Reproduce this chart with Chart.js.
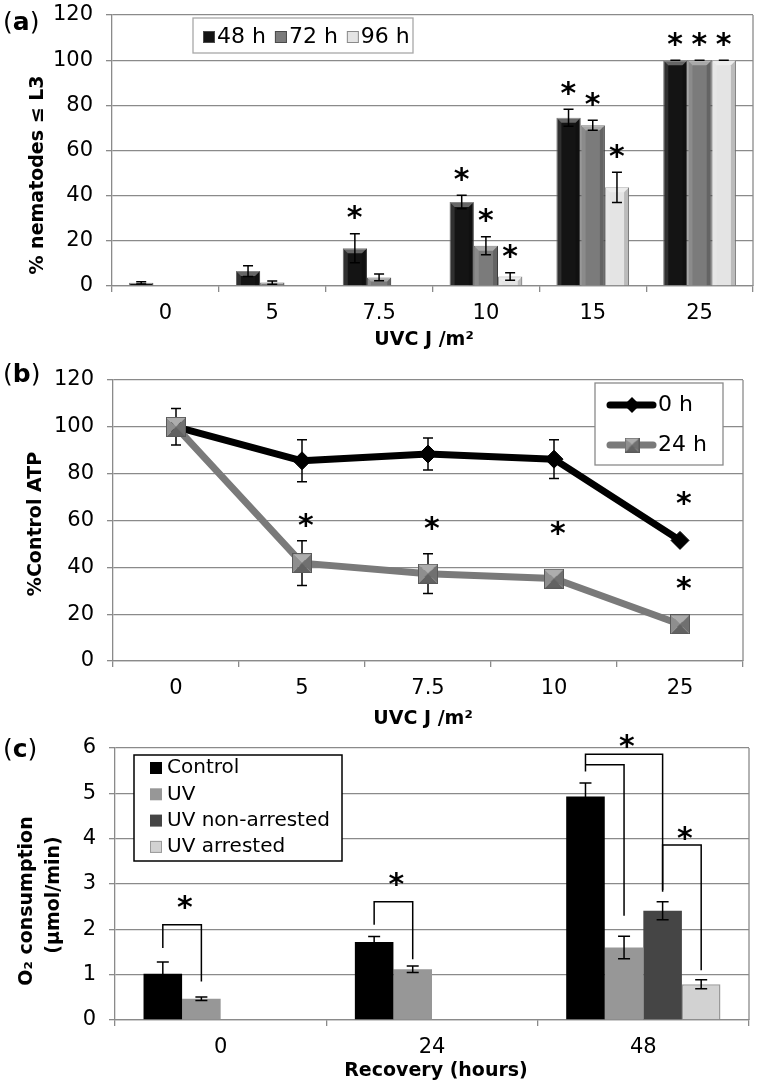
<!DOCTYPE html>
<html>
<head>
<meta charset="utf-8">
<script src="https://cdn.jsdelivr.net/npm/chart.js@4.4.0/dist/chart.umd.min.js"></script>
<style>
  body { margin: 0; background: #fff; }
  #page { position: relative; width: 760px; height: 1087px; overflow: hidden; font-family: "DejaVu Sans", Verdana, sans-serif; }
  .box { position: absolute; left: 0; width: 760px; }
  .lbl { position: absolute; white-space: nowrap; line-height: 1; color: #000; }
  .ttl { font-weight: bold; font-size: 19px; transform: translate(-50%, -50%); }
  .rot { transform: translate(-50%, -50%) rotate(-90deg); }
  .pan { font-size: 25px; transform: translateY(-50%); }
</style>
</head>
<body>
<div id="page">
  <div class="box" style="top:0;height:352px"><canvas id="chartA"></canvas></div>
  <div class="box" style="top:352px;height:374px"><canvas id="chartB"></canvas></div>
  <div class="box" style="top:726px;height:361px"><canvas id="chartC"></canvas></div>

  <div class="lbl pan" style="left:3px;top:21px">(<b>a</b>)</div>
  <div class="lbl pan" style="left:3px;top:373px">(<b>b</b>)</div>
  <div class="lbl pan" style="left:3px;top:748px">(<b>c</b>)</div>

  <div class="lbl ttl rot" style="left:36px;top:175px">% nematodes ≤ L3</div>
  <div class="lbl ttl" style="left:424px;top:338px">UVC J /m²</div>
  <div class="lbl ttl rot" style="left:34px;top:524px">%Control ATP</div>
  <div class="lbl ttl" style="left:423px;top:717px">UVC J /m²</div>
  <div class="lbl ttl rot" style="left:25px;top:901px">O₂ consumption</div>
  <div class="lbl ttl rot" style="left:52px;top:895px">(μmol/min)</div>
  <div class="lbl ttl" style="left:436px;top:1069px">Recovery (hours)</div>
</div>

<script>
// ---- (a) nematodes arrested at or below L3 ----
const doseA = ['0', '5', '7.5', '10', '15', '25'];
const h48 = [1.4, 6.6, 16.7, 37.2, 74.5, 100];
const h72 = [0, 1.5, 3.8, 17.8, 71.2, 100];
const h96 = [0, 0, 0, 4.2, 43.7, 100];
const h48Err = [0.5, 2.4, 6.4, 3, 3.8, 0];
const h72Err = [null, 0.7, 1.5, 4, 2.2, 0];
const h96Err = [null, null, null, 1.7, 6.7, 0];
const h48Sig = [false, false, true, true, true, true];
const h72Sig = [false, false, false, true, true, true];
const h96Sig = [false, false, false, true, true, true];
const ticksA = [0, 20, 40, 60, 80, 100, 120];

// ---- (b) ATP ----
const doseB = ['0', '5', '7.5', '10', '25'];
const atp0h = [100, 85.5, 88.4, 86.2, 51.5];
const atp24h = [100, 41.8, 37.3, 35.2, 15.7];
const atp0hErr = [7.8, 9, 6.8, 8.3, null];
const atp24hErr = [null, 9.6, 8.5, null, null];
const star0h = [null, null, null, null, 69.4];
const star24h = [null, 60, 58.7, 56.6, 33.2];
const ticksB = [0, 20, 40, 60, 80, 100, 120];

// ---- (c) oxygen consumption ----
const recovery = ['0', '24', '48'];
const o2Control = [1.02, 1.72, 4.93];
const o2UV = [0.47, 1.12, 1.6];
const o2NonArr = [null, null, 2.41];
const o2Arr = [null, null, 0.79];
const errControl = [0.26, 0.12, 0.3];
const errUV = [0.04, 0.07, 0.25];
const errNonArr = [null, null, 0.2];
const errArr = [null, null, 0.1];
const ticksC = [0, 1, 2, 3, 4, 5, 6];
// [group, from series, to series, bracket top, from leg end, to leg end, asterisk]
const bracketsC = [
    [0, 0, 1, 2.1, 1.59, 0.85, 2.6],
    [1, 0, 1, 2.61, 2.1, 1.34, 3.09],
    [2, 0, 2, 5.86, 5.48, 2.83, 6.14],
    [2, 0, 1, 5.63, 5.63, 2.3, null],
    [2, 2, 3, 3.86, 2.87, 1.1, 4.12]
];

const FONT = '"DejaVu Sans", Verdana, sans-serif';
const GRID = '#8a8a8a';

function axisY(w, ticks) {
    return {
        min: ticks[0], max: ticks[ticks.length - 1],
        afterFit: s => { s.width = w; s.paddingTop = 0; s.paddingBottom = 0; },
        afterBuildTicks: s => { s.ticks = ticks.map(v => ({ value: v })); },
        grid: { color: GRID, lineWidth: 1.3, tickLength: 6 },
        border: { color: GRID, width: 1.3 },
        ticks: { color: '#000', font: { family: FONT, size: 21 }, padding: 13 }
    };
}

function axisX(h) {
    return {
        offset: true,
        afterFit: s => { s.height = h; },
        grid: { offset: true, drawOnChartArea: false, color: GRID, lineWidth: 1.3, tickLength: 6 },
        border: { color: GRID, width: 1.3 },
        ticks: { color: '#000', font: { family: FONT, size: 21 }, padding: 9, maxRotation: 0, autoSkip: false }
    };
}

function baseOptions(pad, scales) {
    return {
        responsive: true,
        maintainAspectRatio: false,
        animation: false,
        events: [],
        layout: { padding: pad },
        plugins: { legend: { display: false }, tooltip: { enabled: false } },
        scales: scales
    };
}

// right edge of the plot frame
const frame = {
    id: 'frame',
    beforeDatasetsDraw(chart) {
        const { ctx, chartArea: a } = chart;
        ctx.save();
        ctx.strokeStyle = GRID;
        ctx.lineWidth = 1.3;
        ctx.beginPath();
        ctx.moveTo(a.right, a.top);
        ctx.lineTo(a.right, a.bottom);
        ctx.stroke();
        ctx.restore();
    }
};

function drawErrors(chart, errs, cap) {
    const { ctx, scales: { y } } = chart;
    ctx.save();
    ctx.strokeStyle = '#000';
    ctx.lineWidth = 1.5;
    errs.forEach((err, i) => {
        const meta = chart.getDatasetMeta(i);
        const vals = chart.data.datasets[i].data;
        err.forEach((e, j) => {
            if (e == null || vals[j] == null) return;
            const x = meta.data[j].x;
            const yt = y.getPixelForValue(vals[j] + e);
            const yb = y.getPixelForValue(vals[j] - e);
            ctx.beginPath();
            ctx.moveTo(x, yt); ctx.lineTo(x, yb);
            ctx.moveTo(x - cap, yt); ctx.lineTo(x + cap, yt);
            ctx.moveTo(x - cap, yb); ctx.lineTo(x + cap, yb);
            ctx.stroke();
        });
    });
    ctx.restore();
}

function star(ctx, x, y) {
    ctx.save();
    ctx.font = 'bold 30px ' + FONT;
    ctx.fillStyle = '#000';
    ctx.textAlign = 'left';
    ctx.textBaseline = 'alphabetic';
    const m = ctx.measureText('*');
    const x0 = x - (m.actualBoundingBoxRight - m.actualBoundingBoxLeft) / 2;
    ctx.fillText('*', x0, y + (m.actualBoundingBoxAscent - m.actualBoundingBoxDescent) / 2);
    ctx.restore();
}

function bevelSquare(size, border) {
    const c = document.createElement('canvas');
    c.width = c.height = size;
    const g = c.getContext('2d');
    const s = size, m = size / 2;
    const faces = [
        ['#adadad', [0, 0, s, 0, m, m]],
        ['#8e8e8e', [0, 0, m, m, 0, s]],
        ['#707070', [s, 0, s, s, m, m]],
        ['#626262', [0, s, m, m, s, s]]
    ];
    faces.forEach(([col, p]) => {
        g.fillStyle = col;
        g.beginPath();
        g.moveTo(p[0], p[1]); g.lineTo(p[2], p[3]); g.lineTo(p[4], p[5]);
        g.closePath();
        g.fill();
    });
    g.strokeStyle = border;
    g.lineWidth = 1;
    g.strokeRect(0.5, 0.5, s - 1, s - 1);
    return c;
}

// ================= chart (a) =================
new Chart(document.getElementById('chartA'), {
    type: 'bar',
    data: {
        labels: doseA,
        datasets: [
            { label: '48 h', data: h48, backgroundColor: '#141414', borderColor: '#4a4a4a', borderWidth: 1 },
            { label: '72 h', data: h72, backgroundColor: '#7b7b7b', borderColor: '#4a4a4a', borderWidth: 1 },
            { label: '96 h', data: h96, backgroundColor: '#e4e4e4', borderColor: '#8a8a8a', borderWidth: 1 }
        ]
    },
    options: Object.assign(baseOptions({ top: 15, right: 7, left: 0, bottom: 0 }, {
        x: axisX(66),
        y: axisY(112, ticksA)
    }), {
        datasets: { bar: { categoryPercentage: 0.68, barPercentage: 1 } }
    }),
    plugins: [frame, {
        id: 'extrasA',
        afterDatasetsDraw(chart) {
            const { ctx, scales: { y } } = chart;
            // bevel shading on each bar
            chart.data.datasets.forEach((ds, i) => {
                chart.getDatasetMeta(i).data.forEach(bar => {
                    const { x, y: top, base, width } = bar.getProps(['x', 'y', 'base', 'width'], true);
                    const h = base - top;
                    if (h < 2) return;
                    const l = x - width / 2, r = x + width / 2, b = Math.min(5, h / 2);
                    ctx.save();
                    ctx.fillStyle = 'rgba(255,255,255,0.35)';
                    ctx.beginPath();
                    ctx.moveTo(l, top); ctx.lineTo(r, top); ctx.lineTo(r - b, top + b); ctx.lineTo(l + b, top + b);
                    ctx.closePath(); ctx.fill();
                    ctx.fillStyle = 'rgba(255,255,255,0.12)';
                    ctx.beginPath();
                    ctx.moveTo(l, top); ctx.lineTo(l + b, top + b); ctx.lineTo(l + b, base); ctx.lineTo(l, base);
                    ctx.closePath(); ctx.fill();
                    ctx.fillStyle = 'rgba(0,0,0,0.18)';
                    ctx.beginPath();
                    ctx.moveTo(r, top); ctx.lineTo(r - b, top + b); ctx.lineTo(r - b, base); ctx.lineTo(r, base);
                    ctx.closePath(); ctx.fill();
                    ctx.restore();
                });
            });
            const errs = [h48Err, h72Err, h96Err];
            drawErrors(chart, errs, 5);
            // significance asterisks above the whiskers
            [h48Sig, h72Sig, h96Sig].forEach((sig, i) => {
                const meta = chart.getDatasetMeta(i);
                const vals = chart.data.datasets[i].data;
                sig.forEach((on, j) => {
                    if (!on) return;
                    const top = vals[j] + (errs[i][j] || 0);
                    star(ctx, meta.data[j].x, y.getPixelForValue(top) - 21);
                });
            });
        },
        afterDraw(chart) {
            const { ctx, chartArea: a } = chart;
            const left = a.left + 81, top = a.top + 3, w = 220, h = 35;
            ctx.save();
            ctx.fillStyle = '#fff';
            ctx.fillRect(left, top, w, h);
            ctx.strokeStyle = '#a8a8a8';
            ctx.lineWidth = 1.3;
            ctx.strokeRect(left, top, w, h);
            ctx.font = '22px ' + FONT;
            ctx.textBaseline = 'middle';
            let x = left + 10;
            const cy = top + 19;
            chart.data.datasets.forEach(ds => {
                ctx.fillStyle = ds.backgroundColor;
                ctx.fillRect(x, cy - 6, 12, 12);
                ctx.strokeStyle = ds.borderColor;
                ctx.lineWidth = 1;
                ctx.strokeRect(x + 0.5, cy - 5.5, 11, 11);
                ctx.fillStyle = '#000';
                ctx.fillText(ds.label, x + 14, cy);
                x += 14 + ctx.measureText(ds.label).width + 9;
            });
            ctx.restore();
        }
    }]
});

// ================= chart (b) =================
const square24 = bevelSquare(20, '#5a5a5a');
const square24Legend = bevelSquare(15, '#5a5a5a');

new Chart(document.getElementById('chartB'), {
    type: 'line',
    data: {
        labels: doseB,
        datasets: [
            {
                label: '0 h', data: atp0h, order: 1,
                borderColor: '#000', borderWidth: 7, borderJoinStyle: 'round', borderCapStyle: 'round',
                pointStyle: 'rectRot', pointRadius: 9, pointBackgroundColor: '#000', pointBorderColor: '#000', pointBorderWidth: 1
            },
            {
                label: '24 h', data: atp24h, order: 0,
                borderColor: '#7a7a7a', borderWidth: 7, borderJoinStyle: 'round', borderCapStyle: 'round',
                pointStyle: square24, pointRadius: 10
            }
        ]
    },
    options: baseOptions({ top: 28, right: 12, left: 0, bottom: 0 }, {
        x: axisX(65),
        y: axisY(113, ticksB)
    }),
    plugins: [frame, {
        id: 'extrasB',
        beforeDatasetsDraw(chart) {
            drawErrors(chart, [atp0hErr, atp24hErr], 5);
        },
        afterDatasetsDraw(chart) {
            const { ctx, scales: { y } } = chart;
            [star0h, star24h].forEach((st, i) => {
                const meta = chart.getDatasetMeta(i);
                st.forEach((v, j) => {
                    if (v == null) return;
                    star(ctx, meta.data[j].x + 4, y.getPixelForValue(v));
                });
            });
        },
        afterDraw(chart) {
            const { ctx, chartArea: a } = chart;
            const w = 128, h = 82, left = a.right - 20 - w, top = a.top + 3;
            ctx.save();
            ctx.fillStyle = '#fff';
            ctx.fillRect(left, top, w, h);
            ctx.strokeStyle = GRID;
            ctx.lineWidth = 1.3;
            ctx.strokeRect(left, top, w, h);
            ctx.font = '22px ' + FONT;
            ctx.textBaseline = 'middle';
            chart.data.datasets.forEach((ds, k) => {
                const cy = top + 22 + 40 * k;
                ctx.strokeStyle = ds.borderColor;
                ctx.lineWidth = 7;
                ctx.lineCap = 'round';
                ctx.beginPath();
                ctx.moveTo(left + 15, cy);
                ctx.lineTo(left + 58, cy);
                ctx.stroke();
                const mx = left + 37;
                if (k === 0) {
                    ctx.fillStyle = '#000';
                    ctx.beginPath();
                    ctx.moveTo(mx, cy - 8); ctx.lineTo(mx + 8, cy); ctx.lineTo(mx, cy + 8); ctx.lineTo(mx - 8, cy);
                    ctx.closePath(); ctx.fill();
                } else {
                    ctx.drawImage(square24Legend, mx - 7.5, cy - 7.5);
                }
                ctx.fillStyle = '#000';
                ctx.fillText(ds.label, left + 63, cy);
            });
            ctx.restore();
        }
    }]
});

// ================= chart (c) =================
new Chart(document.getElementById('chartC'), {
    type: 'bar',
    data: {
        labels: recovery,
        datasets: [
            { label: 'Control', data: o2Control, backgroundColor: '#000000', borderColor: '#000000', borderWidth: 0 },
            { label: 'UV', data: o2UV, backgroundColor: '#979797', borderColor: '#979797', borderWidth: 0 },
            { label: 'UV non-arrested', data: o2NonArr, backgroundColor: '#454545', borderColor: '#454545', borderWidth: 0 },
            { label: 'UV arrested', data: o2Arr, backgroundColor: '#d2d2d2', borderColor: '#9a9a9a', borderWidth: 1.5 }
        ]
    },
    options: Object.assign(baseOptions({ top: 22, right: 11, left: 0, bottom: 0 }, {
        x: axisX(67),
        y: axisY(115, ticksC)
    }), {
        datasets: { bar: { categoryPercentage: 0.73, barPercentage: 1 } }
    }),
    plugins: [frame, {
        id: 'extrasC',
        afterDatasetsDraw(chart) {
            const { ctx, scales: { y } } = chart;
            drawErrors(chart, [errControl, errUV, errNonArr, errArr], 6);
            ctx.save();
            ctx.strokeStyle = '#000';
            ctx.lineWidth = 1.5;
            bracketsC.forEach(([g, s1, s2, top, e1, e2, st]) => {
                const x1 = chart.getDatasetMeta(s1).data[g].x;
                const x2 = chart.getDatasetMeta(s2).data[g].x;
                const yt = y.getPixelForValue(top);
                ctx.beginPath();
                ctx.moveTo(x1, y.getPixelForValue(e1));
                ctx.lineTo(x1, yt);
                ctx.lineTo(x2, yt);
                ctx.lineTo(x2, y.getPixelForValue(e2));
                ctx.stroke();
                if (st != null) star(ctx, (x1 + x2) / 2 + 3, y.getPixelForValue(st));
            });
            ctx.restore();
        },
        afterDraw(chart) {
            const { ctx, chartArea: a } = chart;
            const left = a.left + 19, top = a.top + 7, w = 208, h = 106;
            ctx.save();
            ctx.fillStyle = '#fff';
            ctx.fillRect(left, top, w, h);
            ctx.strokeStyle = '#000';
            ctx.lineWidth = 1.5;
            ctx.strokeRect(left, top, w, h);
            ctx.font = '20px ' + FONT;
            ctx.textBaseline = 'middle';
            chart.data.datasets.forEach((ds, k) => {
                const cy = top + 13 + 26.3 * k;
                ctx.fillStyle = ds.backgroundColor;
                ctx.fillRect(left + 16, cy - 6, 12, 12);
                if (ds.borderWidth) {
                    ctx.strokeStyle = ds.borderColor;
                    ctx.lineWidth = 1;
                    ctx.strokeRect(left + 16.5, cy - 5.5, 11, 11);
                }
                ctx.fillStyle = '#000';
                ctx.fillText(ds.label, left + 33, cy);
            });
            ctx.restore();
        }
    }]
});
</script>
</body>
</html>
